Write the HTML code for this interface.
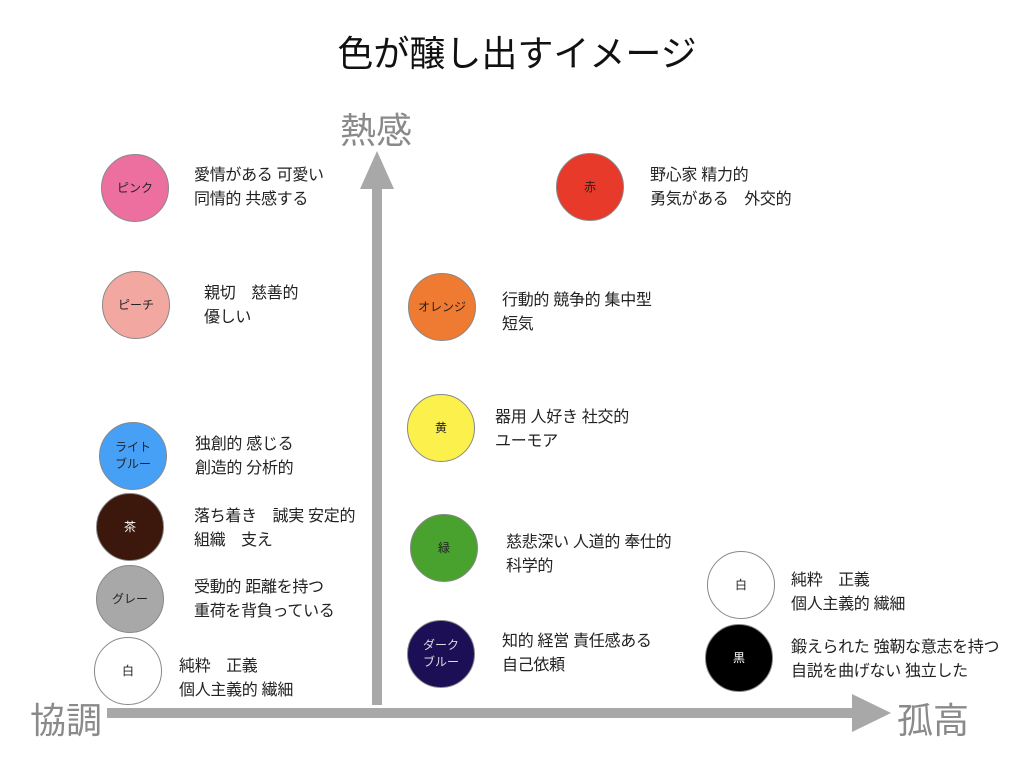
<!DOCTYPE html>
<html><head><meta charset="utf-8"><style>
body{margin:0;width:1024px;height:768px;background:#fff;position:relative;overflow:hidden;font-family:"Liberation Sans","Noto Sans CJK JP",sans-serif;}
.c{position:absolute;width:68px;height:68px;border-radius:50%;border:1px solid #888;box-sizing:border-box;display:flex;align-items:center;justify-content:center;text-align:center;font-size:12px;line-height:17px;color:#222}
.t{position:absolute;font-size:16px;line-height:24px;color:#222;white-space:nowrap;letter-spacing:-0.3px}
.ax{position:absolute;font-size:36px;color:#8a8a8a}
</style></head><body>
<div style="position:absolute;left:5px;width:1024px;top:25px;text-align:center;font-size:36px;color:#111">色が醸し出すイメージ</div>
<div class="ax" style="left:340px;top:102px">熱感</div>
<div class="ax" style="left:30px;top:692px">協調</div>
<div class="ax" style="left:897px;top:692px">孤高</div>
<svg style="position:absolute;left:0;top:0" width="1024" height="768">
<rect x="372" y="186" width="10" height="519" fill="#a8a8a8"/>
<polygon points="377,151 360,189 394,189" fill="#a8a8a8"/>
<rect x="107" y="708" width="748" height="10" fill="#a8a8a8"/>
<polygon points="891,713 852,694 852,732" fill="#a8a8a8"/>
</svg>
<div class="c" style="left:101px;top:154px;background:#ec6fa0">ピンク</div>
<div class="t" style="left:194px;top:164px">愛情がある 可愛い<br>同情的 共感する</div>
<div class="c" style="left:102px;top:271px;background:#f2a8a0">ピーチ</div>
<div class="t" style="left:204px;top:282px">親切　慈善的<br>優しい</div>
<div class="c" style="left:99px;top:422px;background:#46a0f5">ライト<br>ブルー</div>
<div class="t" style="left:195px;top:433px">独創的 感じる<br>創造的 分析的</div>
<div class="c" style="left:96px;top:493px;background:#3c180c;color:#fff">茶</div>
<div class="t" style="left:194px;top:505px">落ち着き　誠実 安定的<br>組織　支え</div>
<div class="c" style="left:96px;top:565px;background:#a8a8a8">グレー</div>
<div class="t" style="left:194px;top:576px">受動的 距離を持つ<br>重荷を背負っている</div>
<div class="c" style="left:94px;top:637px;background:#fff">白</div>
<div class="t" style="left:179px;top:655px">純粋　正義<br>個人主義的 繊細</div>
<div class="c" style="left:556px;top:153px;background:#e83a2a">赤</div>
<div class="t" style="left:650px;top:164px">野心家 精力的<br>勇気がある　外交的</div>
<div class="c" style="left:408px;top:273px;background:#ef7a32">オレンジ</div>
<div class="t" style="left:502px;top:289px">行動的 競争的 集中型<br>短気</div>
<div class="c" style="left:407px;top:394px;background:#fbf04c">黄</div>
<div class="t" style="left:495px;top:406px">器用 人好き 社交的<br>ユーモア</div>
<div class="c" style="left:410px;top:514px;background:#4aa22e">緑</div>
<div class="t" style="left:506px;top:531px">慈悲深い 人道的 奉仕的<br>科学的</div>
<div class="c" style="left:407px;top:620px;background:#1c0f56;color:#ddd">ダーク<br>ブルー</div>
<div class="t" style="left:502px;top:630px">知的 経営 責任感ある<br>自己依頼</div>
<div class="c" style="left:707px;top:551px;background:#fff">白</div>
<div class="t" style="left:791px;top:569px">純粋　正義<br>個人主義的 繊細</div>
<div class="c" style="left:705px;top:624px;background:#000;color:#fff">黒</div>
<div class="t" style="left:791px;top:636px">鍛えられた 強靭な意志を持つ<br>自説を曲げない 独立した</div>
</body></html>
